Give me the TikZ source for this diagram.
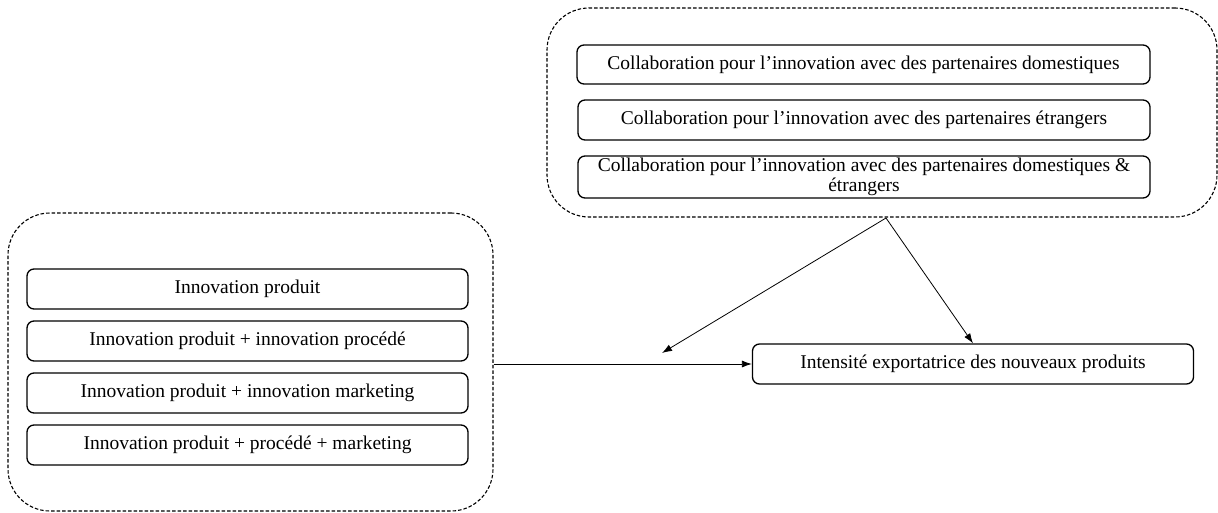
\documentclass[tikz,border=0pt]{standalone}
\usepackage{fontspec}
\setmainfont{Liberation Serif}
\usetikzlibrary{arrows.meta}
\begin{document}
\begin{tikzpicture}[x=1pt,y=-1pt,
  container/.style={draw, dashed, dash pattern=on 3.5pt off 2pt, line width=1.1pt, rounded corners=42pt, inner sep=0pt},
  item/.style={draw, line width=1.3pt, rounded corners=7pt, inner sep=0pt, font=\fontsize{19.5}{20}\selectfont, align=center},
  conn/.style={line width=0.8pt, -{Latex[length=10pt,width=7pt]}}]
\useasboundingbox (0,0) rectangle (1218,513);
% containers
\node[container, minimum width=670pt, minimum height=209pt] (topc) at (882,112.5) {};
\node[container, minimum width=485pt, minimum height=298pt] (leftc) at (250.5,362) {};
% top items
\node[item, minimum width=573pt, minimum height=39pt] (c1) at (863.5,64.5) {Collaboration pour l’innovation avec des partenaires domestiques};
\node[item, minimum width=572pt, minimum height=40pt] (c2) at (864,120) {Collaboration pour l’innovation avec des partenaires étrangers};
\node[item, minimum width=572pt, minimum height=42pt] (c3) at (864,177) {Collaboration pour l’innovation avec des partenaires domestiques \&\\étrangers};
% left items
\node[item, minimum width=441pt, minimum height=40pt] (i1) at (247.5,289) {Innovation produit};
\node[item, minimum width=441pt, minimum height=40pt] (i2) at (247.5,341) {Innovation produit + innovation procédé};
\node[item, minimum width=441pt, minimum height=40pt] (i3) at (247.5,393) {Innovation produit + innovation marketing};
\node[item, minimum width=441pt, minimum height=40pt] (i4) at (247.5,445) {Innovation produit + procédé + marketing};
% target
\node[item, minimum width=441pt, minimum height=40pt] (t) at (973,364) {Intensité exportatrice des nouveaux produits};
% connectors
\coordinate (src) at (886,218);
\coordinate (mod) at (662,353);
\draw[conn] (src) -- (mod);
\draw[conn] (src) -- (t.north);
\draw[conn] (leftc.east |- t.west) -- (t.west);
\end{tikzpicture}
\end{document}
